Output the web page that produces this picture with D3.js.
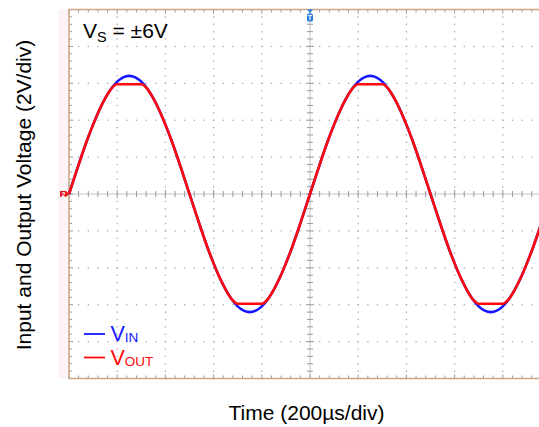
<!DOCTYPE html>
<html>
<head>
<meta charset="utf-8">
<script src="https://cdn.jsdelivr.net/npm/d3@7"></script>
<style>
  html, body { margin: 0; padding: 0; background: #fff; }
  svg { display: block; font-family: "Liberation Sans", Arial, sans-serif; }
</style>
</head>
<body>
<svg id="chart" width="539" height="427"></svg>
<script>
// ---- data ----
const timeUs = [0,25,50,75,100,125,150,175,200,225,250,275,300,325,350,375,400,425,450,475,
  500,525,550,575,600,625,650,675,700,725,750,775,800,825,850,875,900,925,950,975,
  1000,1025,1050,1075,1100,1125,1150,1175,1200,1225,1250,1275,1300,1325,1350,1375,1400,1425,1450,1475,
  1500,1525,1550,1575,1600,1625,1650,1675,1700,1725,1750,1775,1800,1825,1850,1875,1900,1925,1950,1975,2000];
const vIn = [0,1.00,1.98,2.91,3.76,4.53,5.18,5.70,6.09,6.32,6.40,6.32,6.09,5.70,5.18,4.53,3.76,2.91,1.98,1.00,
  0,-1.00,-1.98,-2.91,-3.76,-4.53,-5.18,-5.70,-6.09,-6.32,-6.40,-6.32,-6.09,-5.70,-5.18,-4.53,-3.76,-2.91,-1.98,-1.00,
  0,1.00,1.98,2.91,3.76,4.53,5.18,5.70,6.09,6.32,6.40,6.32,6.09,5.70,5.18,4.53,3.76,2.91,1.98,1.00,
  0,-1.00,-1.98,-2.91,-3.76,-4.53,-5.18,-5.70,-6.09,-6.32,-6.40,-6.32,-6.09,-5.70,-5.18,-4.53,-3.76,-2.91,-1.98,-1.00,0];
const vOut = [0,1.00,1.98,2.91,3.76,4.53,5.18,5.70,5.95,5.95,5.95,5.95,5.95,5.70,5.18,4.53,3.76,2.91,1.98,1.00,
  0,-1.00,-1.98,-2.91,-3.76,-4.53,-5.18,-5.70,-5.95,-5.95,-5.95,-5.95,-5.95,-5.70,-5.18,-4.53,-3.76,-2.91,-1.98,-1.00,
  0,1.00,1.98,2.91,3.76,4.53,5.18,5.70,5.95,5.95,5.95,5.95,5.95,5.70,5.18,4.53,3.76,2.91,1.98,1.00,
  0,-1.00,-1.98,-2.91,-3.76,-4.53,-5.18,-5.70,-5.95,-5.95,-5.95,-5.95,-5.95,-5.70,-5.18,-4.53,-3.76,-2.91,-1.98,-1.00,0];
const timeDivs = [0,200,400,600,800,1000,1200,1400,1600,1800,2000];
const voltDivs = [-10,-8,-6,-4,-2,0,2,4,6,8,10];
const seriesNames = ["IN", "OUT"];
const xTitle = "Time (200µs/div)";
const yTitle = "Input and Output Voltage (2V/div)";

// ---- layout ----
const svg = d3.select("#chart");
const L = 69, R = 551, T = 9.5, B = 378.5;
const x = d3.scaleLinear().domain([0, 2000]).range([L, R]);
const y = d3.scaleLinear().domain([-10, 10]).range([B, T]);
const borderCol = "#c9a687";
const dotCol = "#a8a8a8";

// pink strip left of plot
svg.append("rect").attr("x", 58).attr("y", T).attr("width", L - 58).attr("height", B - T).attr("fill", "#fdf3f7");

// minor positions
const minorX = [], minorY = [];
for (let i = 0; i < timeDivs.length - 1; i++) for (let k = 0; k < 5; k++) minorX.push(timeDivs[i] + k * 40);
minorX.push(2000);
for (let i = 0; i < voltDivs.length - 1; i++) for (let k = 0; k < 5; k++) minorY.push(voltDivs[i] + k * 0.4);
minorY.push(10);

const g = svg.append("g");
// dotted grid: vertical lines
timeDivs.filter(t => t !== 0 && t !== 1000 && t !== 2000).forEach(t => {
  minorY.forEach(v => {
    g.append("rect").attr("x", x(t) - 0.6).attr("y", y(v) - 0.6).attr("width", 1.3).attr("height", 1.3).attr("fill", dotCol);
  });
});
// horizontal lines
voltDivs.filter(v => v !== 0 && Math.abs(v) !== 10).forEach(v => {
  minorX.forEach(t => {
    g.append("rect").attr("x", x(t) - 0.6).attr("y", y(v) - 0.6).attr("width", 1.3).attr("height", 1.3).attr("fill", dotCol);
  });
});

// center cross
g.append("line").attr("x1", L).attr("x2", R).attr("y1", y(0)).attr("y2", y(0)).attr("stroke", "#c4c4c4").attr("stroke-width", 1);
g.append("line").attr("x1", x(1000)).attr("x2", x(1000)).attr("y1", T).attr("y2", B).attr("stroke", "#c4c4c4").attr("stroke-width", 1);
minorX.forEach(t => {
  const len = (t % 200 === 0) ? 4 : 3;
  g.append("line").attr("x1", x(t)).attr("x2", x(t)).attr("y1", y(0) - len).attr("y2", y(0) + len).attr("stroke", "#9a9a9a");
  // border ticks
  g.append("line").attr("x1", x(t)).attr("x2", x(t)).attr("y1", T).attr("y2", T + len).attr("stroke", "#9a9a9a");
  g.append("line").attr("x1", x(t)).attr("x2", x(t)).attr("y1", B).attr("y2", B - len).attr("stroke", "#9a9a9a");
});
minorY.forEach(v => {
  const len = (Math.abs(v * 10) % 20 < 0.01) ? 4 : 3;
  g.append("line").attr("x1", x(1000) - len).attr("x2", x(1000) + len).attr("y1", y(v)).attr("y2", y(v)).attr("stroke", "#9a9a9a");
  g.append("line").attr("x1", L).attr("x2", L + len).attr("y1", y(v)).attr("y2", y(v)).attr("stroke", "#9a9a9a");
});

// border
svg.append("rect").attr("x", L).attr("y", T).attr("width", R - L).attr("height", B - T)
  .attr("fill", "none").attr("stroke", borderCol).attr("stroke-width", 1.5);

// traces
const line = d3.line().x((d, i) => x(timeUs[i])).y(d => y(d)).curve(d3.curveMonotoneX);
svg.append("path").datum(vIn).attr("d", line).attr("fill", "none").attr("stroke", "#1515ff").attr("stroke-width", 2.6);
svg.append("path").datum(vOut).attr("d", line).attr("fill", "none").attr("stroke", "#ff0a0a").attr("stroke-width", 2.6);

// trigger marker at top
const tx = x(1000);
svg.append("path").attr("d", `M${tx-3},${T} L${tx+3},${T} L${tx},${T+3.5} Z`).attr("fill", "#2a7de1");
svg.append("rect").attr("x", tx - 3).attr("y", T + 4).attr("width", 6).attr("height", 8).attr("rx", 1.5).attr("fill", "#2a7de1");
svg.append("text").attr("x", tx).attr("y", T + 10.8).attr("text-anchor", "middle").attr("font-size", 7).attr("font-weight", "bold").attr("fill", "#fff").text("T");

// channel marker at left
const cy = y(0);
svg.append("path").attr("d", `M${L-9},${cy-3} L${L-3},${cy-3} L${L},${cy} L${L-3},${cy+3} L${L-9},${cy+3} Z`).attr("fill", "#e8141c");
svg.append("text").attr("x", L - 5.5).attr("y", cy + 2.8).attr("text-anchor", "middle").attr("font-size", 7).attr("font-weight", "bold").attr("fill", "#fff").text("2");

// supply label
const vs = svg.append("text").attr("x", 83).attr("y", 38).attr("font-size", 21).attr("fill", "#000");
vs.append("tspan").text("V");
vs.append("tspan").attr("font-size", 14.5).attr("dy", 4).text("S");
vs.append("tspan").attr("dy", -4).text(" = ±6V");

// legend
const legCols = ["#1515ff", "#ff0a0a"];
seriesNames.forEach((name, i) => {
  const ly = 334 + i * 23.5;
  svg.append("line").attr("x1", 84).attr("x2", 105).attr("y1", ly).attr("y2", ly).attr("stroke", legCols[i]).attr("stroke-width", 1.8);
  const t = svg.append("text").attr("x", 110.5).attr("y", ly + 7).attr("font-size", 21.5).attr("fill", legCols[i]);
  t.append("tspan").text("V");
  t.append("tspan").attr("font-size", 13.5).attr("dy", 1).text(name);
});

// axis titles
svg.append("text").attr("x", 306.5).attr("y", 420).attr("text-anchor", "middle").attr("font-size", 21).attr("fill", "#000").text(xTitle);
svg.append("text").attr("transform", `translate(31,195) rotate(-90)`).attr("text-anchor", "middle").attr("font-size", 21).attr("fill", "#000").text(yTitle);
</script>
</body>
</html>
